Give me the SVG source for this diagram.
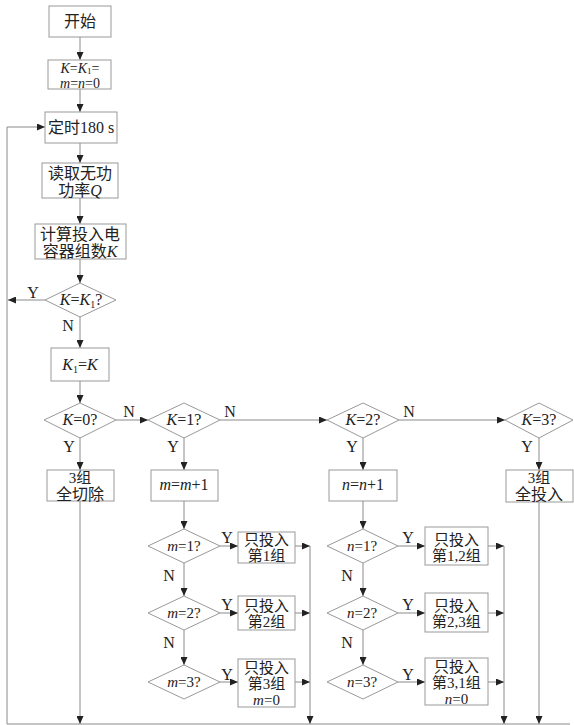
<svg xmlns="http://www.w3.org/2000/svg" width="574" height="725" viewBox="0 0 574 725">
<defs>
<marker id="ah" markerUnits="userSpaceOnUse" markerWidth="8" markerHeight="7" refX="8" refY="3.5" orient="auto">
<path d="M0,0 L8,3.5 L0,7 z" fill="#222"/>
</marker>
<style>
.b{fill:#fff;stroke:#999;stroke-width:1}
.l{fill:none;stroke:#8a8a8a;stroke-width:1}
.a{fill:none;stroke:#8a8a8a;stroke-width:1;marker-end:url(#ah)}
text{font-family:"Liberation Serif","Noto Sans CJK SC",serif;font-size:16px;fill:#222;text-anchor:middle}
.s{font-size:15px}
.t{font-size:14px}
.i{font-style:italic}
.sub{font-size:10px}
.sub2{font-size:9px}
.lab{font-size:16px}
</style>
</defs>
<rect width="574" height="725" fill="#fff"/>

<g id="connectors">
<path class="a" d="M80,37 V60"/>
<path class="a" d="M80,89 V112"/>
<path class="a" d="M80,143 V163"/>
<path class="a" d="M80,198 V224"/>
<path class="a" d="M80,259 V283"/>
<path class="a" d="M45,300 H8"/>
<path class="a" d="M7,724 V127 H45"/>
<path class="a" d="M80,317 V348"/>
<path class="a" d="M80,381 V403"/>
<path class="a" d="M116,420 H148"/>
<path class="a" d="M220,420 H327"/>
<path class="a" d="M399,420 H505"/>
<path class="a" d="M80,438 V470"/>
<path class="a" d="M184,438 V470"/>
<path class="a" d="M363,438 V470"/>
<path class="a" d="M539,438 V470"/>
<path class="a" d="M80,501 V724"/>
<path class="a" d="M539,502 V724"/>
<path class="a" d="M184,501 V529"/>
<path class="a" d="M363,501 V529"/>
<path class="a" d="M184,563 V596"/>
<path class="a" d="M184,630 V665"/>
<path class="a" d="M363,563 V596"/>
<path class="a" d="M363,630 V665"/>
<path class="a" d="M220,546 H238"/>
<path class="a" d="M220,613 H238"/>
<path class="a" d="M220,682 H238"/>
<path class="a" d="M398,546 H425"/>
<path class="a" d="M398,613 H425"/>
<path class="a" d="M398,682 H425"/>
<path class="a" d="M295,546 H310"/>
<path class="a" d="M295,613 H310"/>
<path class="a" d="M295,682 H310"/>
<path class="a" d="M488,546 H504"/>
<path class="a" d="M488,613 H504"/>
<path class="a" d="M488,682 H504"/>
<path class="a" d="M310,546 V724"/>
<path class="a" d="M504,546 V724"/>
<path class="l" d="M7,724 H570"/>
<text class="lab" x="33" y="298">Y</text>
<text class="lab" x="68" y="331">N</text>
<text class="lab" x="129" y="417">N</text>
<text class="lab" x="230" y="417">N</text>
<text class="lab" x="409" y="417">N</text>
<text class="lab" x="69" y="452">Y</text>
<text class="lab" x="173" y="452">Y</text>
<text class="lab" x="352" y="452">Y</text>
<text class="lab" x="527" y="452">Y</text>
<text class="lab" x="227" y="543">Y</text>
<text class="lab" x="227" y="610">Y</text>
<text class="lab" x="227" y="680">Y</text>
<text class="lab" x="408" y="543">Y</text>
<text class="lab" x="408" y="610">Y</text>
<text class="lab" x="408" y="680">Y</text>
<text class="lab" x="169" y="581">N</text>
<text class="lab" x="169" y="648">N</text>
<text class="lab" x="347" y="581">N</text>
<text class="lab" x="347" y="648">N</text>
</g>

<g id="start">
<rect class="b" x="49" y="6" width="62" height="31"/>
<text x="80" y="27">开始</text>
</g>
<g id="init">
<rect class="b" x="48" y="60" width="63" height="29"/>
<text class="t" x="80" y="72.5"><tspan class="i">K</tspan>=<tspan class="i">K</tspan><tspan class="sub2" dy="1.5">1</tspan><tspan dy="-1.5">=</tspan></text>
<text class="t" x="80" y="88"><tspan class="i">m</tspan>=<tspan class="i">n</tspan>=0</text>
</g>
<g id="timer">
<rect class="b" x="45" y="112" width="72" height="31"/>
<text x="81" y="133">定时180 s</text>
</g>
<g id="readq">
<rect class="b" x="42" y="163" width="76" height="35"/>
<text x="80" y="179">读取无功</text>
<text x="80" y="196">功率<tspan class="i">Q</tspan></text>
</g>
<g id="calck">
<rect class="b" x="35" y="224" width="91" height="35"/>
<text x="80" y="240">计算投入电</text>
<text x="80" y="257">容器组数<tspan class="i">K</tspan></text>
</g>
<g id="d_kk1">
<polygon class="b" points="45,300 80,283 116,300 80,317"/>
<text x="81" y="305"><tspan class="i">K</tspan>=<tspan class="i">K</tspan><tspan class="sub" dy="3">1</tspan><tspan dy="-3">?</tspan></text>
</g>
<g id="setk1">
<rect class="b" x="51" y="348" width="58" height="33"/>
<text x="80" y="370"><tspan class="i">K</tspan><tspan class="sub" dy="3">1</tspan><tspan dy="-3">=</tspan><tspan class="i">K</tspan></text>
</g>
<g id="d_k0">
<polygon class="b" points="44,420 80,403 116,420 80,438"/>
<text x="80" y="425"><tspan class="i">K</tspan>=0?</text>
</g>
<g id="d_k1">
<polygon class="b" points="148,420 184,403 220,420 184,438"/>
<text x="184" y="425"><tspan class="i">K</tspan>=1?</text>
</g>
<g id="d_k2">
<polygon class="b" points="327,420 363,403 399,420 363,438"/>
<text x="363" y="425"><tspan class="i">K</tspan>=2?</text>
</g>
<g id="d_k3">
<polygon class="b" points="505,420 539,403 573,420 539,438"/>
<text x="539" y="425"><tspan class="i">K</tspan>=3?</text>
</g>
<g id="alloff">
<rect class="b" x="47" y="470" width="67" height="31"/>
<text class="s" x="80" y="483">3组</text>
<text x="80" y="499.5">全切除</text>
</g>
<g id="minc">
<rect class="b" x="151" y="470" width="67" height="31"/>
<text x="184" y="490"><tspan class="i">m</tspan>=<tspan class="i">m</tspan>+1</text>
</g>
<g id="ninc">
<rect class="b" x="329" y="470" width="68" height="31"/>
<text x="363" y="490"><tspan class="i">n</tspan>=<tspan class="i">n</tspan>+1</text>
</g>
<g id="allon">
<rect class="b" x="506" y="470" width="67" height="32"/>
<text class="s" x="539" y="483">3组</text>
<text x="539" y="499.5">全投入</text>
</g>
<g id="d_m1">
<polygon class="b" points="148,546 184,529 220,546 184,563"/>
<text class="s" x="184" y="551"><tspan class="i">m</tspan>=1?</text>
</g>
<g id="d_m2">
<polygon class="b" points="148,613 184,596 220,613 184,630"/>
<text class="s" x="184" y="618"><tspan class="i">m</tspan>=2?</text>
</g>
<g id="d_m3">
<polygon class="b" points="148,682 184,665 220,682 184,699"/>
<text class="s" x="184" y="687"><tspan class="i">m</tspan>=3?</text>
</g>
<g id="d_n1">
<polygon class="b" points="327,546 363,529 398,546 363,563"/>
<text class="s" x="362" y="551"><tspan class="i">n</tspan>=1?</text>
</g>
<g id="d_n2">
<polygon class="b" points="327,613 363,596 398,613 363,630"/>
<text class="s" x="362" y="618"><tspan class="i">n</tspan>=2?</text>
</g>
<g id="d_n3">
<polygon class="b" points="327,682 363,665 398,682 363,699"/>
<text class="s" x="362" y="687"><tspan class="i">n</tspan>=3?</text>
</g>
<g id="m_g1">
<rect class="b" x="238" y="532" width="57" height="31"/>
<text class="s" x="266.5" y="544.5">只投入</text>
<text class="s" x="266.5" y="560.5">第1组</text>
</g>
<g id="m_g2">
<rect class="b" x="238" y="596" width="57" height="34"/>
<text class="s" x="266.5" y="611">只投入</text>
<text class="s" x="266.5" y="627">第2组</text>
</g>
<g id="m_g3">
<rect class="b" x="238" y="659" width="57" height="48"/>
<text class="s" x="266.5" y="673">只投入</text>
<text class="s" x="266.5" y="689">第3组</text>
<text class="s" x="266.5" y="705"><tspan class="i">m</tspan>=0</text>
</g>
<g id="n_g12">
<rect class="b" x="425" y="527" width="63" height="38"/>
<text class="s" x="456.5" y="545">只投入</text>
<text class="s" x="456.5" y="561">第1,2组</text>
</g>
<g id="n_g23">
<rect class="b" x="425" y="593" width="63" height="39"/>
<text class="s" x="456.5" y="611">只投入</text>
<text class="s" x="456.5" y="627">第2,3组</text>
</g>
<g id="n_g31">
<rect class="b" x="425" y="658" width="63" height="47"/>
<text class="s" x="456.5" y="672">只投入</text>
<text class="s" x="456.5" y="688">第3,1组</text>
<text class="s" x="456.5" y="704"><tspan class="i">n</tspan>=0</text>
</g>
</svg>
